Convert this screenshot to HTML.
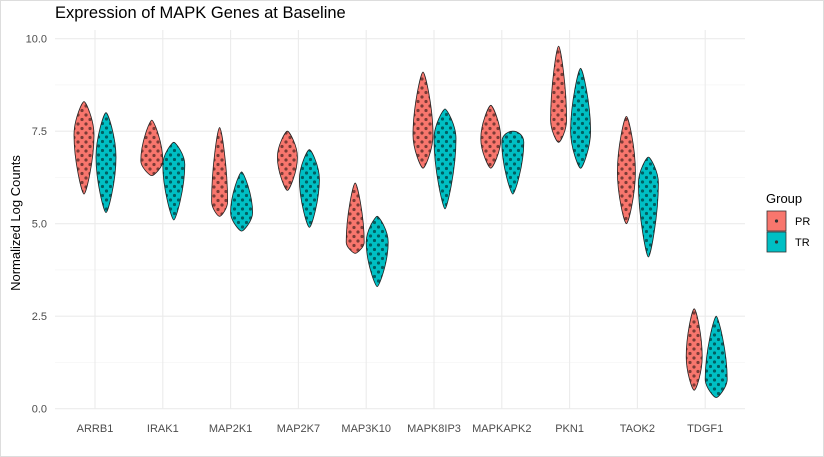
<!DOCTYPE html>
<html><head><meta charset="utf-8"><style>
html,body{margin:0;padding:0;background:#fff}
svg{display:block;font-family:"Liberation Sans",sans-serif}
</style></head><body>
<svg width="824" height="457" viewBox="0 0 824 457" xmlns="http://www.w3.org/2000/svg">
<defs>
<pattern id="pr" width="8" height="9" patternUnits="userSpaceOnUse">
<rect width="8" height="9" fill="#F8766D"/>
<circle cx="2" cy="2.5" r="1.6" fill="#000" fill-opacity="0.5"/>
<circle cx="6" cy="7" r="1.6" fill="#000" fill-opacity="0.5"/>
</pattern>
<pattern id="tr" width="8" height="9" patternUnits="userSpaceOnUse">
<rect width="8" height="9" fill="#00BFC4"/>
<circle cx="2.5" cy="2" r="1.6" fill="#000" fill-opacity="0.5"/>
<circle cx="6.5" cy="6.5" r="1.6" fill="#000" fill-opacity="0.5"/>
</pattern>
</defs>
<rect x="0.5" y="0.5" width="823" height="456" fill="#fff" stroke="#ddd"/>
<g stroke="#f3f3f3" stroke-width="0.6">
<line x1="55" x2="745" y1="362.45" y2="362.45"/><line x1="55" x2="745" y1="269.95" y2="269.95"/>
<line x1="55" x2="745" y1="177.45" y2="177.45"/><line x1="55" x2="745" y1="84.95" y2="84.95"/>
</g>
<g stroke="#ebebeb" stroke-width="1.1">
<line x1="55" x2="745" y1="408.7" y2="408.7"/><line x1="55" x2="745" y1="316.2" y2="316.2"/>
<line x1="55" x2="745" y1="223.7" y2="223.7"/><line x1="55" x2="745" y1="131.2" y2="131.2"/>
<line x1="55" x2="745" y1="38.7" y2="38.7"/>
<line x1="95" x2="95" y1="30" y2="409"/><line x1="162.8" x2="162.8" y1="30" y2="409"/>
<line x1="230.6" x2="230.6" y1="30" y2="409"/><line x1="298.4" x2="298.4" y1="30" y2="409"/>
<line x1="366.2" x2="366.2" y1="30" y2="409"/><line x1="434" x2="434" y1="30" y2="409"/>
<line x1="501.8" x2="501.8" y1="30" y2="409"/><line x1="569.6" x2="569.6" y1="30" y2="409"/>
<line x1="637.4" x2="637.4" y1="30" y2="409"/><line x1="705.2" x2="705.2" y1="30" y2="409"/>
</g>
<g font-size="11" fill="#4d4d4d" text-anchor="end">
<text x="47" y="412.7">0.0</text><text x="47" y="320.2">2.5</text><text x="47" y="227.7">5.0</text>
<text x="47" y="135.2">7.5</text><text x="47" y="42.7">10.0</text>
</g>
<g font-size="11" fill="#4d4d4d" text-anchor="middle">
<text x="95" y="432">ARRB1</text><text x="162.8" y="432">IRAK1</text><text x="230.6" y="432">MAP2K1</text>
<text x="298.4" y="432">MAP2K7</text><text x="366.2" y="432">MAP3K10</text><text x="434" y="432">MAPK8IP3</text>
<text x="501.8" y="432">MAPKAPK2</text><text x="569.6" y="432">PKN1</text><text x="637.4" y="432">TAOK2</text>
<text x="705.2" y="432">TDGF1</text>
</g>
<g stroke="#222" stroke-width="0.8">
<path fill="url(#pr)" d="M84,101.6 C86,101.6 94,119.9 94,134.9 C94,161.5 86,194.1 84,194.1 C82,194.1 74,161.5 74,134.9 C74,119.9 82,101.6 84,101.6Z"/>
<path fill="url(#tr)" d="M106,112.7 C108,112.7 116,137.1 116,157.1 C116,182.1 108,212.6 106,212.6 C104,212.6 96,182.1 96,157.1 C96,137.1 104,112.7 106,112.7Z"/>
<path fill="url(#pr)" d="M151.8,120.1 C153.8,120.1 162.8,142.5 162.8,160.8 C162.8,167.5 153.8,175.6 151.8,175.6 C149.8,175.6 140.8,167.5 140.8,160.8 C140.8,142.5 149.8,120.1 151.8,120.1Z"/>
<path fill="url(#tr)" d="M173.8,142.3 C175.8,142.3 184.8,154.5 184.8,164.5 C184.8,189.5 175.8,220 173.8,220 C171.8,220 162.8,189.5 162.8,164.5 C162.8,154.5 171.8,142.3 173.8,142.3Z"/>
<path fill="url(#pr)" d="M219.6,127.5 C221.6,127.5 227.6,168.2 227.6,201.5 C227.6,208.2 221.6,216.3 219.6,216.3 C217.6,216.3 211.6,208.2 211.6,201.5 C211.6,168.2 217.6,127.5 219.6,127.5Z"/>
<path fill="url(#tr)" d="M241.6,171.9 C243.6,171.9 252.6,194.3 252.6,212.6 C252.6,220.9 243.6,231.1 241.6,231.1 C239.6,231.1 230.6,220.9 230.6,212.6 C230.6,194.3 239.6,171.9 241.6,171.9Z"/>
<path fill="url(#pr)" d="M287.4,131.2 C289.4,131.2 297.4,145.4 297.4,157.1 C297.4,172.1 289.4,190.4 287.4,190.4 C285.4,190.4 277.4,172.1 277.4,157.1 C277.4,145.4 285.4,131.2 287.4,131.2Z"/>
<path fill="url(#tr)" d="M309.4,149.7 C311.4,149.7 319.4,166 319.4,179.3 C319.4,200.9 311.4,227.4 309.4,227.4 C307.4,227.4 299.4,200.9 299.4,179.3 C299.4,166 307.4,149.7 309.4,149.7Z"/>
<path fill="url(#pr)" d="M355.2,183 C357.2,183 364.2,215.6 364.2,242.2 C364.2,247.2 357.2,253.3 355.2,253.3 C353.2,253.3 346.2,247.2 346.2,242.2 C346.2,215.6 353.2,183 355.2,183Z"/>
<path fill="url(#tr)" d="M377.2,216.3 C379.2,216.3 388.2,230.5 388.2,242.2 C388.2,262.2 379.2,286.6 377.2,286.6 C375.2,286.6 366.2,262.2 366.2,242.2 C366.2,230.5 375.2,216.3 377.2,216.3Z"/>
<path fill="url(#pr)" d="M423,72 C425,72 433,106.6 433,134.9 C433,149.9 425,168.2 423,168.2 C421,168.2 413,149.9 413,134.9 C413,106.6 421,72 423,72Z"/>
<path fill="url(#tr)" d="M445,109 C447,109 456,125.3 456,138.6 C456,170.2 447,208.9 445,208.9 C443,208.9 434,170.2 434,138.6 C434,125.3 443,109 445,109Z"/>
<path fill="url(#pr)" d="M490.8,105.3 C492.8,105.3 500.8,123.6 500.8,138.6 C500.8,151.9 492.8,168.2 490.8,168.2 C488.8,168.2 480.8,151.9 480.8,138.6 C480.8,123.6 488.8,105.3 490.8,105.3Z"/>
<path fill="url(#tr)" d="M512.8,131.2 C516.8,131.2 523.8,134.3 523.8,142.3 C523.8,165.6 514.8,194.1 512.8,194.1 C510.8,194.1 501.8,165.6 501.8,142.3 C501.8,134.3 508.8,131.2 512.8,131.2Z"/>
<path fill="url(#pr)" d="M558.6,46.1 C560.6,46.1 566.6,86.8 566.6,120.1 C566.6,130.1 560.6,142.3 558.6,142.3 C556.6,142.3 550.6,130.1 550.6,120.1 C550.6,86.8 556.6,46.1 558.6,46.1Z"/>
<path fill="url(#tr)" d="M580.6,68.3 C582.6,68.3 590.6,102.9 590.6,131.2 C590.6,147.9 582.6,168.2 580.6,168.2 C578.6,168.2 570.6,147.9 570.6,131.2 C570.6,102.9 578.6,68.3 580.6,68.3Z"/>
<path fill="url(#pr)" d="M626.4,116.4 C628.4,116.4 635.4,146.9 635.4,171.9 C635.4,195.2 628.4,223.7 626.4,223.7 C624.4,223.7 617.4,195.2 617.4,171.9 C617.4,146.9 624.4,116.4 626.4,116.4Z"/>
<path fill="url(#tr)" d="M648.4,157.1 C650.4,157.1 658.4,171.3 658.4,183 C658.4,216.3 650.4,257 648.4,257 C646.4,257 638.4,216.3 638.4,183 C638.4,171.3 646.4,157.1 648.4,157.1Z"/>
<path fill="url(#pr)" d="M694.2,308.8 C696.2,308.8 702.2,335.3 702.2,356.9 C702.2,371.9 696.2,390.2 694.2,390.2 C692.2,390.2 686.2,371.9 686.2,356.9 C686.2,335.3 692.2,308.8 694.2,308.8Z"/>
<path fill="url(#tr)" d="M716.2,316.2 C718.2,316.2 727.2,350.8 727.2,379.1 C727.2,387.4 718.2,397.6 716.2,397.6 C714.2,397.6 705.2,387.4 705.2,379.1 C705.2,350.8 714.2,316.2 716.2,316.2Z"/>
</g>
<text x="55" y="18" font-size="16.5" fill="#000">Expression of MAPK Genes at Baseline</text>
<text transform="translate(20,223) rotate(-90)" font-size="13" fill="#000" text-anchor="middle">Normalized Log Counts</text>
<text x="766" y="203" font-size="13" fill="#000">Group</text>
<rect x="767" y="211" width="19" height="20" fill="#F8766D" stroke="#333" stroke-width="0.8"/><circle cx="776.5" cy="221" r="1.6" fill="#333"/>
<rect x="767" y="232" width="19" height="20" fill="#00BFC4" stroke="#333" stroke-width="0.8"/><circle cx="776.5" cy="242" r="1.6" fill="#333"/>
<text x="795" y="225" font-size="11" fill="#000">PR</text><text x="795" y="246" font-size="11" fill="#000">TR</text>
</svg>
</body></html>
